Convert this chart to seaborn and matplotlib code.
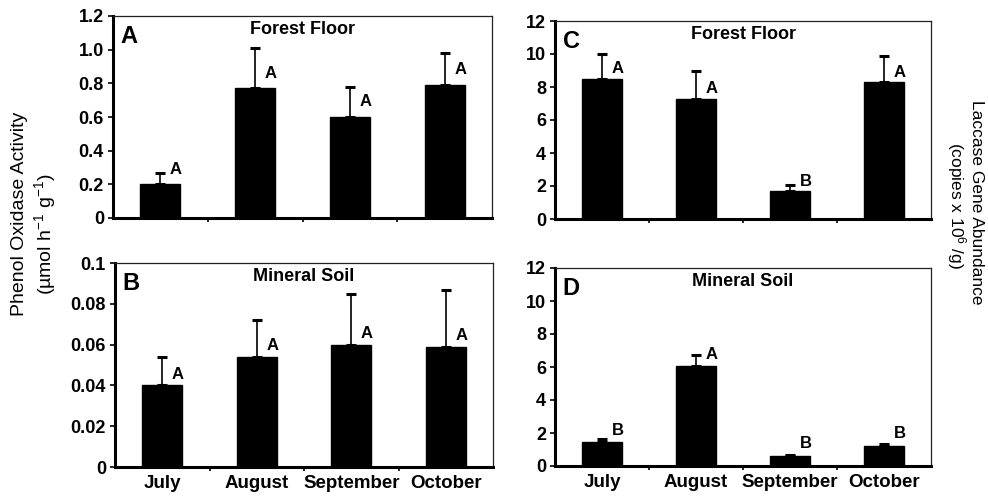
import matplotlib
matplotlib.use("Agg")
import matplotlib.pyplot as plt
import seaborn as sns
import pandas as pd
import numpy as np

# Monthly means, standard errors and significance groups
months = ["July", "August", "September", "October"]

phenol_forest = [0.20, 0.77, 0.60, 0.79]
phenol_forest_se = [0.07, 0.24, 0.18, 0.19]
phenol_forest_grp = ["A", "A", "A", "A"]

phenol_mineral = [0.040, 0.054, 0.060, 0.059]
phenol_mineral_se = [0.014, 0.018, 0.025, 0.028]
phenol_mineral_grp = ["A", "A", "A", "A"]

laccase_forest = [8.5, 7.3, 1.7, 8.3]
laccase_forest_se = [1.5, 1.65, 0.35, 1.55]
laccase_forest_grp = ["A", "A", "B", "A"]

laccase_mineral = [1.44, 6.05, 0.62, 1.23]
laccase_mineral_se = [0.20, 0.67, 0.04, 0.12]
laccase_mineral_grp = ["B", "A", "B", "B"]

phenol_ff_ticks = [0, 0.2, 0.4, 0.6, 0.8, 1.0, 1.2]
phenol_ff_ticklabels = ["0", "0.2", "0.4", "0.6", "0.8", "1.0", "1.2"]
phenol_ms_ticks = [0, 0.02, 0.04, 0.06, 0.08, 0.1]
phenol_ms_ticklabels = ["0", "0.02", "0.04", "0.06", "0.08", "0.1"]
laccase_ticks = [0, 2, 4, 6, 8, 10, 12]
laccase_ticklabels = ["0", "2", "4", "6", "8", "10", "12"]

sns.set_theme(style="white")
plt.rcParams["font.family"] = ["Liberation Sans", "DejaVu Sans"]
plt.rcParams["mathtext.fontset"] = "custom"
plt.rcParams["mathtext.rm"] = "Liberation Sans"
plt.rcParams["mathtext.it"] = "Liberation Sans:italic"
plt.rcParams["mathtext.bf"] = "Liberation Sans:bold"
for key in ["text.color", "axes.labelcolor", "xtick.color", "ytick.color"]:
    plt.rcParams[key] = "black"

W, H = 988, 496
fig = plt.figure(figsize=(W / 100, H / 100), dpi=100)


def px_axes(left, top, right, bottom):
    return fig.add_axes([left / W, 1 - bottom / H, (right - left) / W, (bottom - top) / H])


panels = [
    dict(rect=(113, 16, 492, 218), vals=phenol_forest, se=phenol_forest_se,
         grp=phenol_forest_grp, ticks=phenol_ff_ticks, tlabels=phenol_ff_ticklabels,
         letter="A", title="Forest Floor", months=False, off=0.075),
    dict(rect=(115, 263, 493, 467), vals=phenol_mineral, se=phenol_mineral_se,
         grp=phenol_mineral_grp, ticks=phenol_ms_ticks, tlabels=phenol_ms_ticklabels,
         letter="B", title="Mineral Soil", months=True, off=0.055),
    dict(rect=(555, 21, 931, 219), vals=laccase_forest, se=laccase_forest_se,
         grp=laccase_forest_grp, ticks=laccase_ticks, tlabels=laccase_ticklabels,
         letter="C", title="Forest Floor", months=False, off=0.05),
    dict(rect=(555, 268, 931, 466), vals=laccase_mineral, se=laccase_mineral_se,
         grp=laccase_mineral_grp, ticks=laccase_ticks, tlabels=laccase_ticklabels,
         letter="D", title="Mineral Soil", months=True, off=0.06),
]

for p in panels:
    ax = px_axes(*p["rect"])
    df = pd.DataFrame({"month": months, "value": p["vals"]})
    sns.barplot(data=df, x="month", y="value", ax=ax, color="black",
                width=0.42, saturation=1, errorbar=None, edgecolor="black")
    xs = np.arange(len(months))
    vals = np.asarray(p["vals"])
    se = np.asarray(p["se"])
    ax.errorbar(xs, vals, yerr=[np.zeros_like(se), se], fmt="none",
                ecolor="black", elinewidth=1.2, capsize=3.5, capthick=2.2)
    ymax = p["ticks"][-1]
    ax.set_ylim(0, ymax)
    ax.set_xlim(-0.5, 3.5)
    for x, v, g in zip(xs, vals, p["grp"]):
        ax.text(x + 0.165, v + p["off"] * ymax, g, ha="center", va="center",
                fontsize=12, fontweight="bold", color="black")

    ax.set_yticks(p["ticks"])
    ax.set_yticklabels(p["tlabels"], fontsize=13, fontweight="bold")
    ax.set_xticks(xs)
    if p["months"]:
        ax.set_xticklabels(months, fontsize=13.5, fontweight="bold")
    else:
        ax.set_xticklabels([])
    ax.set_xticks([0.5, 1.5, 2.5], minor=True)
    ax.tick_params(axis="x", which="major", length=0, pad=6, colors="black")
    ax.tick_params(axis="x", which="minor", length=3, width=1.2, direction="out",
                   bottom=True, color="black")
    ax.tick_params(axis="y", length=3.5, width=1.2, direction="out", left=True,
                   pad=3, colors="black")
    ax.set_xlabel("")
    ax.set_ylabel("")

    for side in ["left", "bottom"]:
        ax.spines[side].set_linewidth(2.2)
        ax.spines[side].set_color("black")
    for side in ["top", "right"]:
        ax.spines[side].set_linewidth(0.9)
        ax.spines[side].set_color("#222222")

    ax.text(0.5, 0.975, p["title"], transform=ax.transAxes, ha="center", va="top",
            fontsize=13, fontweight="bold")
    ax.text(0.02, 0.955, p["letter"], transform=ax.transAxes, ha="left", va="top",
            fontsize=17, fontweight="bold")

# Axis titles for the two columns
fig.text(20 / W, 1 - 214 / H, "Phenol Oxidase Activity", rotation=90,
         ha="center", va="center", fontsize=14)
fig.text(45 / W, 1 - 234 / H, "(µmol h$^{-1}$ g$^{-1}$)", rotation=90,
         ha="center", va="center", fontsize=14)
fig.text(976 / W, 1 - 202 / H, "Laccase Gene Abundance", rotation=-90,
         ha="center", va="center", fontsize=12.5)
fig.text(956 / W, 1 - 206 / H, "(copies x 10$^{6}$ /g)", rotation=-90,
         ha="center", va="center", fontsize=12.5)

fig.savefig("out.png", dpi=100, facecolor="white")
